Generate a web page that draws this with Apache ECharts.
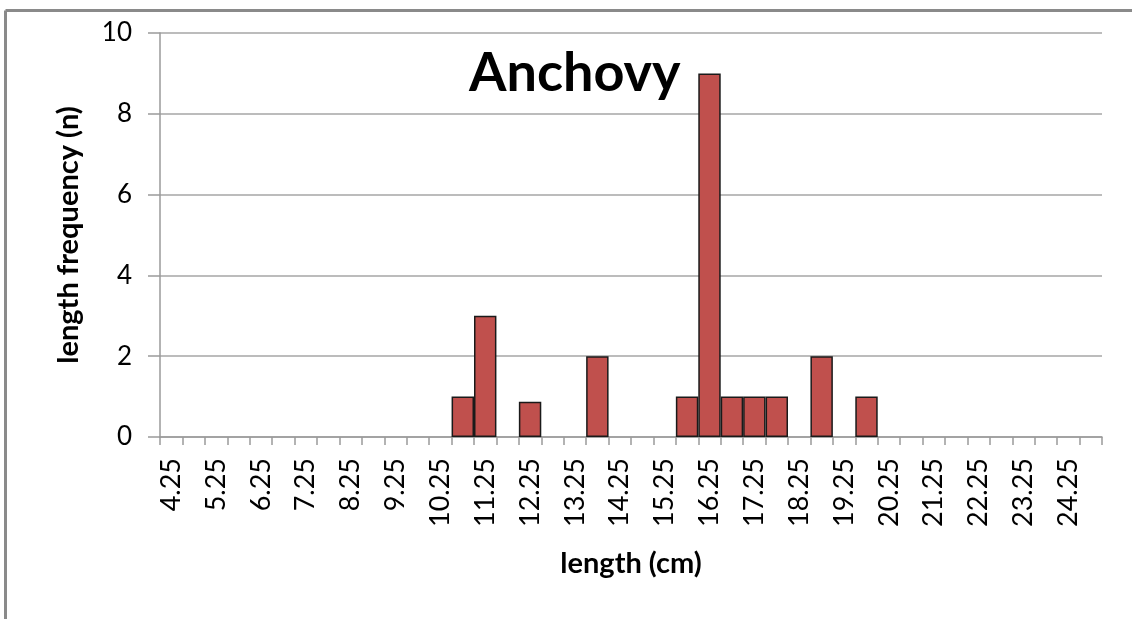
<!DOCTYPE html>
<html>
<head>
<meta charset="utf-8">
<script src="https://cdn.jsdelivr.net/npm/echarts@6/dist/echarts.min.js"></script>
<style>
html,body{margin:0;padding:0;background:#fff;}
#chart{width:1132px;height:619px;}
</style>
</head>
<body>
<div id="chart"></div>
<script>
var categories = ['4.25','4.75','5.25','5.75','6.25','6.75','7.25','7.75','8.25','8.75',
  '9.25','9.75','10.25','10.75','11.25','11.75','12.25','12.75','13.25','13.75',
  '14.25','14.75','15.25','15.75','16.25','16.75','17.25','17.75','18.25','18.75',
  '19.25','19.75','20.25','20.75','21.25','21.75','22.25','22.75','23.25','23.75',
  '24.25','24.75'];
var frequency = [0,0,0,0,0,0,0,0,0,0,
  0,0,0,1,3,0,0.87,0,0,2,
  0,0,0,1,9,1,1,1,0,2,
  0,1,0,0,0,0,0,0,0,0,
  0,0];
var yTicks = [0,2,4,6,8,10];

var barData = frequency.map(function(v){
  return v === 0 ? {value:v, itemStyle:{borderWidth:0, color:'transparent'}} : {value:v};
});

var chart = echarts.init(document.getElementById('chart'), null, {renderer:'canvas'});
var font = 'Lato';
chart.setOption({
  animation:false,
  backgroundColor:'#ffffff',
  title:{
    text:'Anchovy', left:464, top:42,
    textStyle:{fontFamily:font, fontWeight:'bold', fontSize:54, color:'#000'}
  },
  graphic:[
    {type:'line', shape:{x1:5.5,y1:10.5,x2:1132,y2:10.5}, style:{stroke:'#8a8a8a', lineWidth:3}},
    {type:'line', shape:{x1:5.5,y1:10.5,x2:5.5,y2:619}, style:{stroke:'#8a8a8a', lineWidth:3}}
  ],
  grid:{left:160, right:30, top:33, bottom:182, containLabel:false},
  xAxis:{
    type:'category', data:categories, boundaryGap:true,
    name:'length (cm)', nameLocation:'middle', nameGap:112,
    nameTextStyle:{fontFamily:font, fontWeight:'bold', fontSize:29, color:'#000'},
    axisLine:{lineStyle:{color:'#9a9a9a', width:1.5}},
    axisTick:{show:true, interval:0, length:8, lineStyle:{color:'#9a9a9a', width:1.5}},
    axisLabel:{interval:1, rotate:90, margin:21, fontFamily:font, fontSize:27, color:'#000'},
    splitLine:{show:false}
  },
  yAxis:{
    type:'value', min:0, max:10, interval:2,
    name:'length frequency (n)', nameLocation:'middle', nameGap:77,
    nameTextStyle:{fontFamily:font, fontWeight:'bold', fontSize:29, color:'#000'},
    axisLine:{show:true, lineStyle:{color:'#9a9a9a', width:1.5}},
    axisTick:{show:true, length:12, lineStyle:{color:'#9a9a9a', width:1.5}},
    axisLabel:{margin:28, fontFamily:font, fontSize:26, color:'#000',
      formatter:function(v){return yTicks.indexOf(v)>=0 ? String(v) : '';}},
    splitLine:{show:true, lineStyle:{color:'#a6a6a6', width:1.5}}
  },
  series:[{
    type:'bar', data:barData, barCategoryGap:'0%', barGap:'0%',
    itemStyle:{color:'#C0504D', borderColor:'#1a1a1a', borderWidth:1.5}
  }]
});
</script>
</body>
</html>
